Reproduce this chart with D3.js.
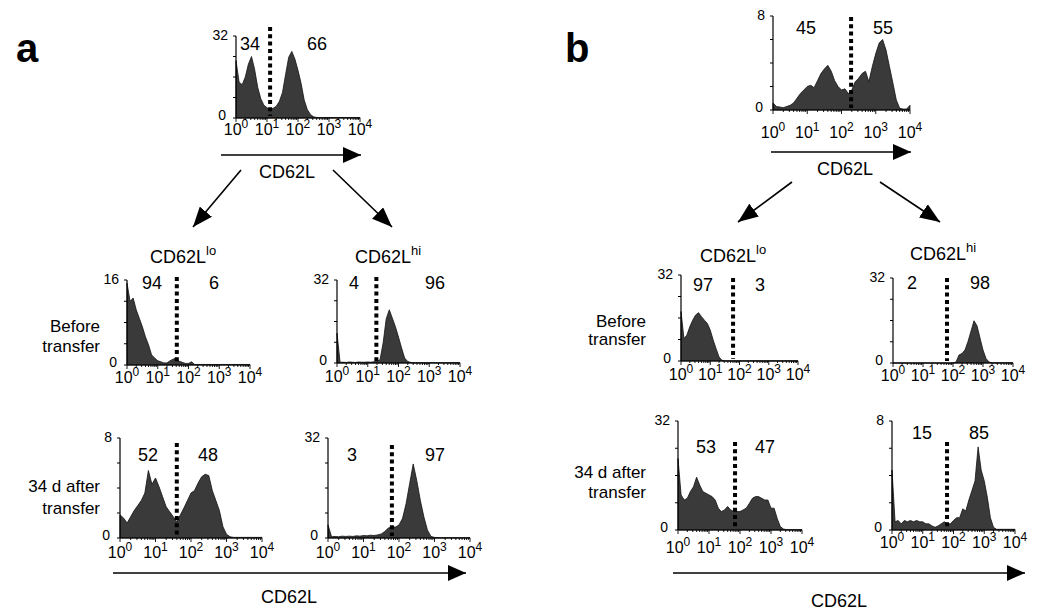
<!DOCTYPE html>
<html><head><meta charset="utf-8">
<script src="https://cdn.jsdelivr.net/npm/d3@7"></script>
<style>
body{margin:0;background:#fff;}
svg{display:block;font-family:"Liberation Sans",Arial,sans-serif;}
</style></head>
<body><svg id="c" width="1050" height="612"></svg>
<script>
// ---------- DATA (histogram counts, bins every 0.1 decade from 10^0 to 10^4) ----------
const xTickExps = [0, 1, 2, 3, 4];
const panelIds = ["aTop","aMidLo","aMidHi","aBotLo","aBotHi","bTop","bMidLo","bMidHi","bBotLo","bBotHi"];
const yMax = [32, 16, 32, 8, 32, 8, 32, 32, 32, 8];
const gateLog = [1.1, 1.62, 1.28, 1.6, 1.8, 2.28, 1.78, 1.8, 1.84, 1.79];
const pctLeft  = ["34","94","4","52","3","45","97","2","53","15"];
const pctRight = ["66","6","96","48","97","55","3","98","47","85"];

const aTop = [22.4,14,13,16,21,24,19,12,7.5,5,4,3.3,3.8,4.6,6.5,10,17,23.7,26,23,18.6,13.5,7,3.3,1.4,0.5,
  0.2,0.2,0.2,0.2,0.2,0.2,0.2,0.2,0.2,0.2,0.2,0.2,0.2,0.2,0.2];
const aMidLo = [15.4,12,12.6,10.4,8.8,7.2,5.3,3.8,1.9,1.3,0.8,0.6,0.4,0.4,0.8,1.1,1.3,0.7,0.5,0.3,0.3,0.6,
  0.1,0.1,0.1,0.1,0.1,0.1,0.1,0.1,0.1,0.1,0.1,0.1,0.1,0.1,0.1,0.1,0.1,0.1,0.1];
const aMidHi = [11.5,0.3,0.3,0.2,0.4,0.3,0.2,0.4,0.3,0.3,0.4,0.3,0.5,0.6,1.3,7.7,17,20.5,17.3,14,10,5.8,1.9,0.6,0.2,
  0.1,0.1,0.1,0.1,0.1,0.1,0.1,0.1,0.1,0.1,0.1,0.1,0.1,0.1,0.1,0.1];
const aBotLo = [1.85,1.6,1.2,1.7,2.2,2.6,3.0,3.6,5.4,4.3,4.8,4.1,3.3,2.5,2.1,1.7,1.3,1.85,2.4,3.0,3.6,3.8,4.4,4.9,5.1,5.0,3.8,3.0,2.2,0.9,0.3,0.1,
  0.05,0.05,0.05,0.05,0.05,0.05,0.05,0.05,0.05];
const aBotHi = [4.2,0.4,0.5,0.4,0.6,0.5,0.6,0.5,0.7,0.6,0.8,0.7,0.9,0.8,1.0,1.3,2.1,3.2,3.5,3.5,4.2,6.3,11,17.4,23.7,18.4,12.1,6.8,2.6,0.5,0.2,
  0.1,0.1,0.1,0.1,0.1,0.1,0.1,0.1,0.1,0.1];
const bTop = [0.6,0.3,0.25,0.2,0.3,0.4,0.6,1.0,1.4,1.7,2.0,2.1,1.9,2.5,3.1,3.5,3.8,3.3,2.5,2.0,1.7,1.8,1.4,1.7,2.4,2.7,3.1,3.3,2.4,3.7,4.8,5.7,6.0,5.1,3.7,2.3,0.85,0.15,0.08,0.08,0.4];
const bMidLo = [18.4,8.4,9.6,12.7,15.2,17.1,18,16.5,15.2,14,11.5,7.8,4.6,1.5,0.25,
  0.05,0.05,0.05,0.05,0.05,0.05,0.05,0.05,0.05,0.05,0.05,0.05,0.05,0.05,0.05,0.05,0.05,0.05,0.05,0.05,0.05,0.05,0.05,0.05,0.05,0.05];
const bMidHi = [0,0,0,0,0,0,0,0,0,0,0,0,0,0,0,0,0,0,0,0,0,0.4,3,3.6,4.9,8.1,12,15.9,14,9.4,4.9,1.7,0.4,
  0.05,0.05,0.05,0.05,0.05,0.05,0.05,0.05];
const bBotLo = [21,10.3,8.8,9.3,11.3,12.7,15.5,13.2,11.3,10.8,10.3,9.8,8.8,6.4,5.4,5.9,6.9,5.9,5.4,5.4,5.4,5.9,6.4,7.8,9.3,9.8,9.8,9.3,8.8,8.8,6.4,6.4,3.4,1.0,0.3,
  0.1,0.1,0.1,0.1,0.1,0.1];
const bBotHi = [4.4,0.6,0.7,0.45,0.7,0.6,0.7,0.6,0.7,0.6,0.6,0.45,0.45,0.3,0.2,0.3,0.45,0.6,0.45,0.45,0.7,0.9,0.9,1.55,1.4,2.2,2.9,3.6,6.1,4.4,3.6,2.4,0.9,0.2,
  0.05,0.05,0.05,0.05,0.05,0.05,0.05];
const series = [aTop,aMidLo,aMidHi,aBotLo,aBotHi,bTop,bMidLo,bMidHi,bBotLo,bBotHi];

// ---------- LAYOUT ----------
const layout = [
  {x0:236,x1:360,top:36,base:118,tickDy:17,lab:[250,317],labY:50,gateTop:27},
  {x0:127,x1:250,top:280,base:365,tickDy:18,lab:[152,214],labY:289,gateTop:277},
  {x0:337,x1:460,top:280,base:363,tickDy:19,lab:[354,435],labY:289,gateTop:277},
  {x0:120,x1:262,top:438,base:538,tickDy:20,lab:[148,208],labY:461,gateTop:443},
  {x0:328,x1:470,top:438,base:538,tickDy:20,lab:[352,435],labY:461,gateTop:445},
  {x0:773,x1:910,top:16,base:110,tickDy:28,lab:[806,883],labY:34,gateTop:17},
  {x0:681,x1:798,top:275,base:361,tickDy:19,lab:[703,760],labY:291,gateTop:278},
  {x0:893,x1:1013,top:278,base:363,tickDy:18,lab:[912,980],labY:289,gateTop:278},
  {x0:678,x1:802,top:421,base:530,tickDy:23,lab:[706,765],labY:453,gateTop:442},
  {x0:892,x1:1015,top:421,base:530,tickDy:18,lab:[922,979],labY:439,gateTop:442}
];

const svg = d3.select("#c");
const defs = svg.append("defs");
defs.append("marker").attr("id","ah").attr("viewBox","0 0 18 16").attr("refX",18).attr("refY",8)
  .attr("markerWidth",18).attr("markerHeight",16).attr("markerUnits","userSpaceOnUse").attr("orient","auto")
  .append("path").attr("d","M0,0 L18,8 L0,16 Z").attr("fill","#000");
defs.append("marker").attr("id","ahs").attr("viewBox","0 0 20 16").attr("refX",20).attr("refY",8)
  .attr("markerWidth",20).attr("markerHeight",16).attr("markerUnits","userSpaceOnUse").attr("orient","auto")
  .append("path").attr("d","M0,0 L20,8 L0,16 Z").attr("fill","#000");

series.forEach((vals, k) => {
  const L = layout[k];
  const g = svg.append("g");
  const x = d3.scaleLog().domain([1, 1e4]).range([L.x0, L.x1]);
  const y = d3.scaleLinear().domain([0, yMax[k]]).range([L.base, L.top]);
  const n = vals.length;
  const pts = vals.map((v, i) => [Math.pow(10, i * 4 / (n - 1)), v]);
  const area = d3.area().x(d => x(d[0])).y0(L.base).y1(d => y(d[1]));
  g.append("path").datum(pts).attr("d", area).attr("fill", "#3a3a3a").attr("stroke", "#111").attr("stroke-width", 0.8).attr("stroke-linejoin","round");

  // axes
  g.append("line").attr("x1", L.x0).attr("x2", L.x0).attr("y1", L.top).attr("y2", L.base).attr("stroke", "#000").attr("stroke-width", 1.2);
  g.append("line").attr("x1", L.x0).attr("x2", L.x1).attr("y1", L.base).attr("y2", L.base).attr("stroke", "#000").attr("stroke-width", 1.2);
  // y ticks
  [0, 0.25, 0.5, 0.75, 1].forEach(f => {
    g.append("line").attr("x1", L.x0 - 3).attr("x2", L.x0).attr("y1", y(f * yMax[k])).attr("y2", y(f * yMax[k])).attr("stroke", "#000").attr("stroke-width", 1);
  });
  // x ticks (major + minor)
  for (let e = 0; e < 4; e++) {
    for (let m = 1; m < 10; m++) {
      const xv = x(m * Math.pow(10, e));
      g.append("line").attr("x1", xv).attr("x2", xv).attr("y1", L.base).attr("y2", L.base + (m === 1 ? 4 : 2)).attr("stroke", "#000").attr("stroke-width", 0.9);
    }
  }
  g.append("line").attr("x1", L.x1).attr("x2", L.x1).attr("y1", L.base).attr("y2", L.base + 4).attr("stroke", "#000").attr("stroke-width", 0.9);
  // tick labels
  xTickExps.forEach(e => {
    const t = g.append("text").attr("x", x(Math.pow(10, e))).attr("y", L.base + L.tickDy).attr("text-anchor", "middle").attr("font-size", 16);
    t.append("tspan").text("10");
    t.append("tspan").attr("dy", -7).attr("font-size", 12).text(e);
  });
  // y labels
  g.append("text").attr("x", L.x0 - 8).attr("y", L.top + 4).attr("text-anchor", "end").attr("font-size", 14).text(yMax[k]);
  g.append("text").attr("x", L.x0 - 10).attr("y", L.base + 2).attr("text-anchor", "end").attr("font-size", 14).text("0");
  // gate
  g.append("line").attr("x1", x(Math.pow(10, gateLog[k]))).attr("x2", x(Math.pow(10, gateLog[k])))
    .attr("y1", L.gateTop).attr("y2", L.base - 2).attr("stroke", "#000").attr("stroke-width", 4).attr("stroke-dasharray", "4,3.3");
  // percentages
  g.append("text").attr("x", L.lab[0]).attr("y", L.labY).attr("text-anchor", "middle").attr("font-size", 18).text(pctLeft[k]);
  g.append("text").attr("x", L.lab[1]).attr("y", L.labY).attr("text-anchor", "middle").attr("font-size", 18).text(pctRight[k]);
});

// ---------- annotations ----------
function arrow(x1, y1, x2, y2, m) {
  svg.append("line").attr("x1", x1).attr("y1", y1).attr("x2", x2).attr("y2", y2)
    .attr("stroke", "#000").attr("stroke-width", 1.6).attr("marker-end", "url(#" + m + ")");
}
function txt(x, y, s, size, anchor, weight) {
  return svg.append("text").attr("x", x).attr("y", y).attr("font-size", size).attr("text-anchor", anchor || "middle")
    .attr("font-weight", weight || "normal").text(s);
}
function supTxt(x, y, main, sup) {
  const t = svg.append("text").attr("x", x).attr("y", y).attr("font-size", 18);
  t.append("tspan").text(main);
  t.append("tspan").attr("dy", -8).attr("font-size", 13).text(sup);
}

txt(16, 62, "a", 40, "start", "bold");
txt(565, 62, "b", 40, "start", "bold");

// panel a
arrow(221, 155, 361, 155, "ah");
txt(287, 178, "CD62L", 18);
arrow(241, 170, 193, 227, "ahs");
arrow(333, 170, 392, 227, "ahs");
supTxt(150, 263, "CD62L", "lo");
supTxt(355, 263, "CD62L", "hi");
txt(100, 332, "Before", 17, "end"); txt(100, 352, "transfer", 17, "end");
txt(100, 492, "34 d after", 17, "end"); txt(100, 514, "transfer", 17, "end");
arrow(113, 573, 466, 573, "ah");
txt(289, 603, "CD62L", 18);

// panel b
arrow(771, 152, 911, 152, "ah");
txt(845, 175, "CD62L", 18);
arrow(792, 182, 738, 222, "ahs");
arrow(880, 182, 940, 222, "ahs");
supTxt(700, 262, "CD62L", "lo");
supTxt(910, 260, "CD62L", "hi");
txt(646, 327, "Before", 17, "end"); txt(646, 345, "transfer", 17, "end");
txt(646, 478, "34 d after", 17, "end"); txt(646, 498, "transfer", 17, "end");
arrow(673, 573, 1025, 573, "ah");
txt(839, 607, "CD62L", 18);
</script></body></html>
